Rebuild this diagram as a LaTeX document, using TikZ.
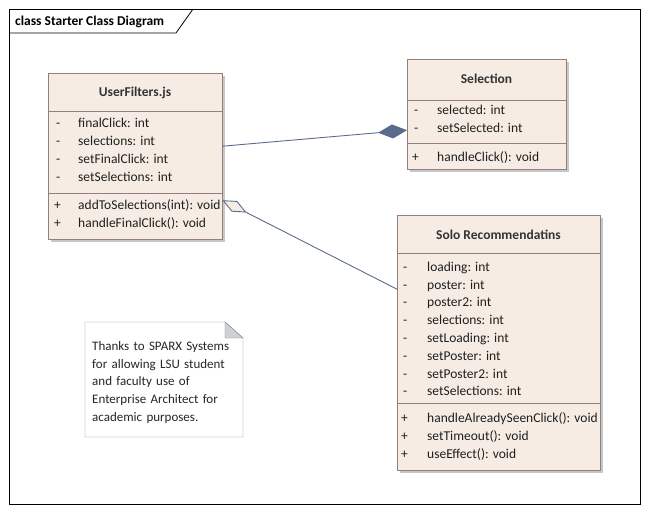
\documentclass[tikz,border=0pt]{standalone}
\usepackage{fontspec}
\setmainfont{Carlito}
\usetikzlibrary{arrows.meta, shadows}
\definecolor{boxfill}{HTML}{F6ECE4}
\definecolor{boxline}{HTML}{907F7A}
\definecolor{linkline}{HTML}{5B6B8C}
\definecolor{noteline}{HTML}{7286A0}

\begin{document}
\begin{tikzpicture}[x=1pt, y=-1pt, font=\fontsize{13.5}{16}\selectfont,
                    classbox/.style = {draw = boxline, fill = boxfill, anchor = north west,
                                       inner sep = 0pt,
                                       drop shadow = {shadow xshift = 2.5pt, shadow yshift = -2.5pt,
                                                      fill = black!22, opacity = 1}},
                    row/.style = {anchor = base west, inner sep = 0pt, text = black!88},
                    head/.style = {font = \fontsize{13.5}{16}\selectfont\bfseries, text = black!80, inner sep = 0pt}
                   ]
     \useasboundingbox (0,0) rectangle (648,514);
     % frame
     \draw[black, line width = .8pt] (9,9) rectangle (640,504);
     \draw[black, line width = .8pt] (9,33) -- (176,33) -- (193,9);
     \node[anchor = base west, inner sep = 0pt, font = \fontsize{13.5}{16}\selectfont\bfseries] (frametitle) at (15,25) {class Starter Class Diagram};

     % UserFilters.js
     \node[classbox, minimum width = 174pt, minimum height = 166pt] (uf) at (48,73) {};
     \draw[boxline] (48,111) -- (222,111);
     \draw[boxline] (48,193) -- (222,193);
     \node[head] (ufname) at (135,93) {UserFilters.js};
     \foreach \t [count = \i] in {finalClick: int, selections: int, setFinalClick: int, setSelections: int}
        {\node[row] (ufv\i) at (56,110 + 17.8*\i) {-};
         \node[row] (ufa\i) at (78,110 + 17.8*\i) {\t};}
     \foreach \t [count = \i] in {addToSelections(int): void, handleFinalClick(): void}
        {\node[row] (ufp\i) at (54,192 + 17.8*\i) {+};
         \node[row] (ufm\i) at (78,192 + 17.8*\i) {\t};}

     % Selection
     \node[classbox, minimum width = 159pt, minimum height = 110pt] (sel) at (407,59) {};
     \draw[boxline] (407,100) -- (566,100);
     \draw[boxline] (407,143) -- (566,143);
     \node[head] (selname) at (486.5,79) {Selection};
     \foreach \t [count = \i] in {selected: int, setSelected: int}
        {\node[row] (selv\i) at (414,97 + 17.8*\i) {-};
         \node[row] (sela\i) at (437,97 + 17.8*\i) {\t};}
     \node[row] (selp1) at (412,161) {+};
     \node[row] (selm1) at (437,161) {handleClick(): void};

     % Solo Recommendatins
     \node[classbox, minimum width = 203pt, minimum height = 255pt] (solo) at (397,215) {};
     \draw[boxline] (397,253) -- (600,253);
     \draw[boxline] (397,403) -- (600,403);
     \node[head] (soloname) at (498.5,235) {Solo Recommendatins};
     \foreach \t [count = \i] in {loading: int, poster: int, poster2: int, selections: int,
                                  setLoading: int, setPoster: int, setPoster2: int, setSelections: int}
        {\node[row] (solov\i) at (403,253.5 + 17.8*\i) {-};
         \node[row] (soloa\i) at (427,253.5 + 17.8*\i) {\t};}
     \foreach \t [count = \i] in {handleAlreadySeenClick(): void, setTimeout(): void, useEffect(): void}
        {\node[row] (solop\i) at (401,405 + 17.8*\i) {+};
         \node[row] (solom\i) at (427,405 + 17.8*\i) {\t};}

     % note
     \draw[noteline, fill = white] (85,322) -- (225,322) -- (243,338) -- (243,437) -- (85,437) -- cycle;
     \filldraw[draw = noteline, fill = black!18] (225,322) -- (225,338) -- (243,338) -- cycle;
     \node[anchor = north west, inner sep = 0pt, align = left, text width = 150pt,
           font = \fontsize{13}{17.8}\selectfont, text = black!85] (note) at (92,341)
           {Thanks to SPARX Systems\\ for allowing LSU student\\ and faculty use of\\ Enterprise Architect for\\ academic purposes.};

     % links
     \draw[linkline, line width = .9pt, -{Diamond[length = 29pt, width = 14pt, fill = linkline]}]
           ([yshift = 10pt]uf.east) -- ([yshift = -16pt]sel.west);
     \draw[linkline, line width = .9pt, {Diamond[length = 27pt, width = 12pt, fill = boxfill]}-]
           ([yshift = -44pt]uf.east) -- ([yshift = 53.5pt]solo.west);
\end{tikzpicture}
\end{document}
